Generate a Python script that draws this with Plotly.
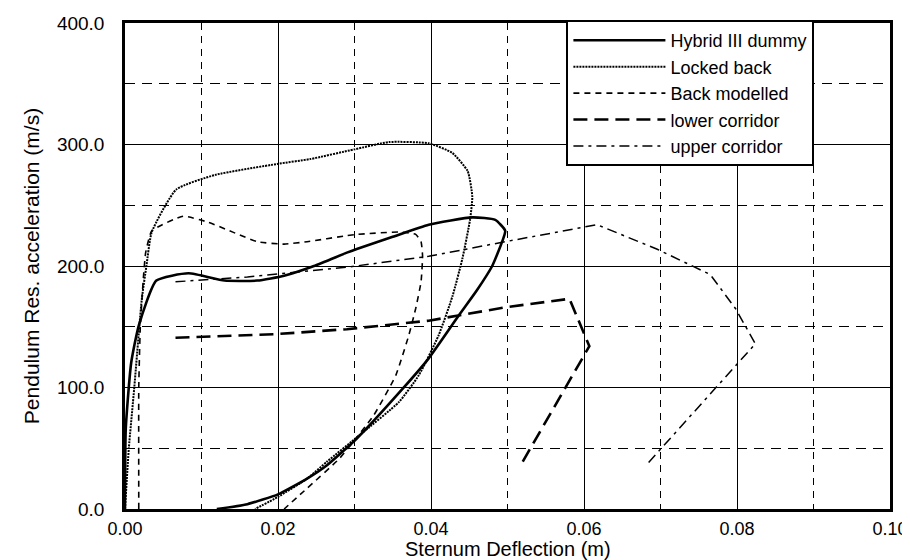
import plotly.graph_objects as go

# ---- data ----
hybrid_x = [0.0, 0.0001, 0.0008, 0.0018, 0.0041, 0.0083, 0.013, 0.0173, 0.0208, 0.0247, 0.029, 0.0303, 0.035,
            0.0397, 0.0454, 0.0484, 0.0497, 0.0493, 0.048, 0.046, 0.0436, 0.0397, 0.0363, 0.0303, 0.0264,
            0.0238, 0.020, 0.016, 0.012]
hybrid_y = [0, 66, 120, 151, 188, 194, 188, 188, 192, 200, 211, 214, 224,
            234, 240, 238, 229, 220, 200, 180, 159, 124, 99, 58, 36,
            25, 12, 4, 0]

locked_x = [0.0, 0.0005, 0.0012, 0.0022, 0.0028, 0.0035, 0.0067, 0.0118, 0.0199, 0.0242, 0.030, 0.0345,
            0.0397, 0.0428, 0.0448, 0.0454, 0.0451, 0.0441, 0.0428, 0.041, 0.0384, 0.0358, 0.0307, 0.0264,
            0.0238, 0.020, 0.017]
locked_y = [0, 50, 99, 173, 200, 228, 263, 275, 284, 288, 296, 302,
            301, 293, 278, 257, 238, 206, 175, 143, 110, 88, 61, 39,
            25, 10, 0]

backmod_x = [0.0018, 0.0018, 0.0020, 0.0024, 0.0027, 0.0035, 0.0076, 0.0109, 0.0173, 0.0208, 0.0238, 0.029,
             0.0303, 0.0358, 0.038, 0.0387, 0.0389, 0.0387, 0.038, 0.0371, 0.0354, 0.0325, 0.0281, 0.0238,
             0.0208]
backmod_y = [0, 100, 150, 190, 211, 229, 241, 236, 220, 218, 220, 225,
             226, 228, 226, 220, 208, 187, 165, 143, 110, 77, 42, 17,
             0]

lower_x = [0.0066, 0.0199, 0.029, 0.0397, 0.0497, 0.0581, 0.0607, 0.0519]
lower_y = [141, 144, 148, 155, 166, 173, 134, 38]

upper_x = [0.0066, 0.016, 0.029, 0.0397, 0.0497, 0.0617, 0.0695, 0.0765, 0.0798, 0.0824, 0.0684]
upper_y = [187, 191, 199, 208, 220, 234, 214, 193, 165, 136, 38]

x_ticks = [0.0, 0.02, 0.04, 0.06, 0.08, 0.10]
x_tick_labels = ["0.00", "0.02", "0.04", "0.06", "0.08", "0.10"]
y_ticks = [0, 100, 200, 300, 400]
y_tick_labels = ["0.0", "100.0", "200.0", "300.0", "400.0"]

x_title = "Sternum Deflection (m)"
y_title = "Pendulum Res. acceleration (m/s)"

FONT = "Liberation Sans, Arial, Helvetica, sans-serif"

fig = go.Figure()
fig.add_trace(go.Scatter(x=hybrid_x, y=hybrid_y, mode="lines", name="Hybrid III dummy",
                         line=dict(color="black", width=2.6, dash="solid", shape="spline", smoothing=0.5)))
fig.add_trace(go.Scatter(x=locked_x, y=locked_y, mode="lines", name="Locked back",
                         line=dict(color="black", width=2, dash="2px,1px", shape="spline", smoothing=0.5)))
fig.add_trace(go.Scatter(x=backmod_x, y=backmod_y, mode="lines", name="Back modelled",
                         line=dict(color="black", width=1.6, dash="6px,5px", shape="spline", smoothing=0.4)))
fig.add_trace(go.Scatter(x=lower_x, y=lower_y, mode="lines", name="lower corridor",
                         line=dict(color="black", width=2.6, dash="14px,7px")))
fig.add_trace(go.Scatter(x=upper_x, y=upper_y, mode="lines", name="upper corridor",
                         line=dict(color="black", width=1.5, dash="10px,5px,3px,5px")))

fig.update_layout(
    width=910, height=560,
    margin=dict(l=117, r=28, t=13, b=59),
    paper_bgcolor="white", plot_bgcolor="white",
    font=dict(family=FONT, color="black", size=18),
    showlegend=True,
    legend=dict(x=0.577, y=1.006, xanchor="left", yanchor="top",
                bgcolor="white", bordercolor="black", borderwidth=2,
                font=dict(size=18, family=FONT), itemwidth=92,
                tracegroupgap=0),
    xaxis=dict(range=[0, 0.10], tickvals=x_ticks, ticktext=x_tick_labels,
               showline=True, linecolor="black", linewidth=2.5, mirror=True,
               showgrid=True, gridcolor="black", gridwidth=1,
               ticks="", ticklabelstandoff=2, automargin=False,
               ticklabeloverflow="allow",
               tickfont=dict(size=18),
               minor=dict(dtick=0.01, tick0=0, showgrid=True, gridcolor="black",
                          griddash="7px,6px", gridwidth=1),
               zeroline=False),
    yaxis=dict(range=[0, 400], tickvals=y_ticks, ticktext=y_tick_labels,
               showline=True, linecolor="black", linewidth=2.5, mirror=True,
               showgrid=True, gridcolor="black", gridwidth=1,
               ticks="", ticklabelstandoff=14, automargin=False,
               tickfont=dict(size=19),
               minor=dict(dtick=50, tick0=0, showgrid=True, gridcolor="black",
                          griddash="10px,7px", gridwidth=1),
               title=dict(text=y_title, font=dict(size=21), standoff=12),
               zeroline=False),
    annotations=[dict(text=x_title, xref="paper", yref="paper", x=0.5, y=-0.083,
                      xanchor="center", yanchor="middle", showarrow=False,
                      font=dict(size=20, family=FONT, color="black"))],
)

fig.write_html("out.html")
